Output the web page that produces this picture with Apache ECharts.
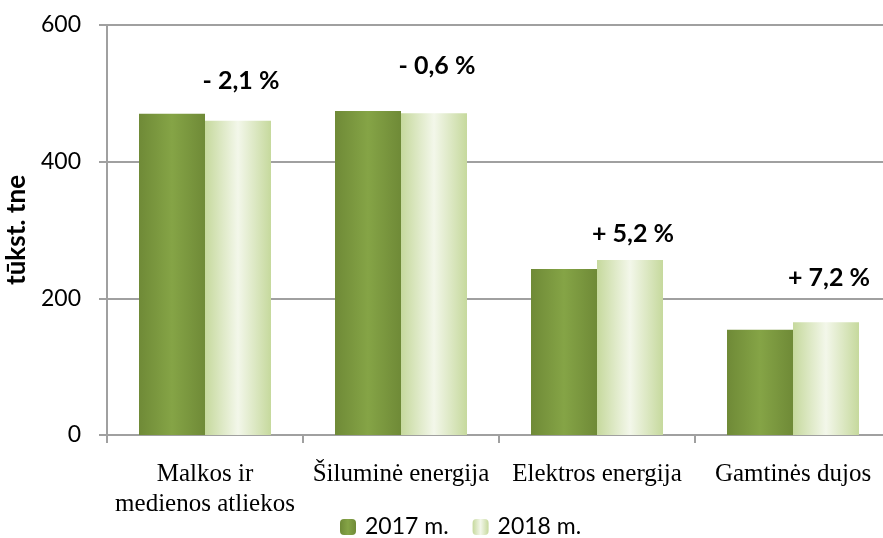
<!DOCTYPE html>
<html><head><meta charset="utf-8">
<script src="https://cdn.jsdelivr.net/npm/echarts@6/dist/echarts.min.js"></script>
<style>html,body{margin:0;padding:0;background:#fff}#c{width:883px;height:538px}</style>
</head><body><div id="c"></div>
<script>
const categories = ['Malkos ir\nmedienos atliekos', 'Šiluminė energija', 'Elektros energija', 'Gamtinės dujos'];
const values2017 = [470, 474, 243, 154];
const values2018 = [460, 471, 256, 165];
const changeLabels = ['- 2,1 %', '- 0,6 %', '+ 5,2 %', '+ 7,2 %'];
const yTicks = [0, 200, 400, 600];

const labelDistances = [27, 35, 14, 32];

const chart = echarts.init(document.getElementById('c'));
const g2017 = new echarts.graphic.LinearGradient(0, 0, 1, 0, [
  {offset: 0, color: '#6f8a37'}, {offset: 0.5, color: '#85a446'}, {offset: 1, color: '#6f8a37'}]);
const g2018 = new echarts.graphic.LinearGradient(0, 0, 1, 0, [
  {offset: 0, color: '#c6d99d'}, {offset: 0.5, color: '#f3f7ea'}, {offset: 1, color: '#c6d99d'}]);

chart.setOption({
  animation: false,
  grid: {left: 107, width: 784, top: 25, height: 410, containLabel: false, outerBoundsMode: 'none'},
  legend: {
    top: 508, left: 335, itemWidth: 16, itemHeight: 16, itemGap: 24,
    textStyle: {fontFamily: 'Lato', fontSize: 23, lineHeight: 28, color: '#000', padding: [0, 0, 0, 4]},
    data: ['2017 m.', '2018 m.']
  },
  xAxis: {
    type: 'category', data: categories,
    axisLine: {lineStyle: {color: '#a0a0a0', width: 2}},
    axisTick: {show: true, length: 8, lineStyle: {color: '#a0a0a0', width: 2}},
    axisLabel: {interval: 0, hideOverlap: false, fontFamily: 'Liberation Serif', fontSize: 25, color: '#000', margin: 24, lineHeight: 30}
  },
  yAxis: {
    type: 'value', min: 0, max: 600, interval: 200,
    name: 'tūkst. tne', nameLocation: 'middle', nameGap: 71, nameRotate: 90,
    nameTextStyle: {fontFamily: 'Lato', fontWeight: 'bold', fontSize: 26, color: '#000'},
    axisLine: {show: true, lineStyle: {color: '#a0a0a0', width: 2}},
    axisTick: {show: true, length: 8, lineStyle: {color: '#a0a0a0', width: 2}},
    splitLine: {lineStyle: {color: '#a0a0a0', width: 2}},
    axisLabel: {fontFamily: 'Lato', fontSize: 23, color: '#000', margin: 26,
      formatter: v => yTicks.includes(v) ? String(v) : ''}
  },
  series: [
    {name: '2017 m.', type: 'bar', data: values2017, barWidth: 66, barGap: '0%',
     itemStyle: {color: g2017}},
    {name: '2018 m.', type: 'bar', data: values2018.map((v, i) => ({
        value: v,
        label: {show: true, position: 'top', distance: labelDistances[i], offset: [3, 0], formatter: changeLabels[i],
          fontFamily: 'Lato', fontWeight: 'bold', fontSize: 25, color: '#000'}
      })), barWidth: 66,
     itemStyle: {color: g2018}}
  ]
});
</script></body></html>
